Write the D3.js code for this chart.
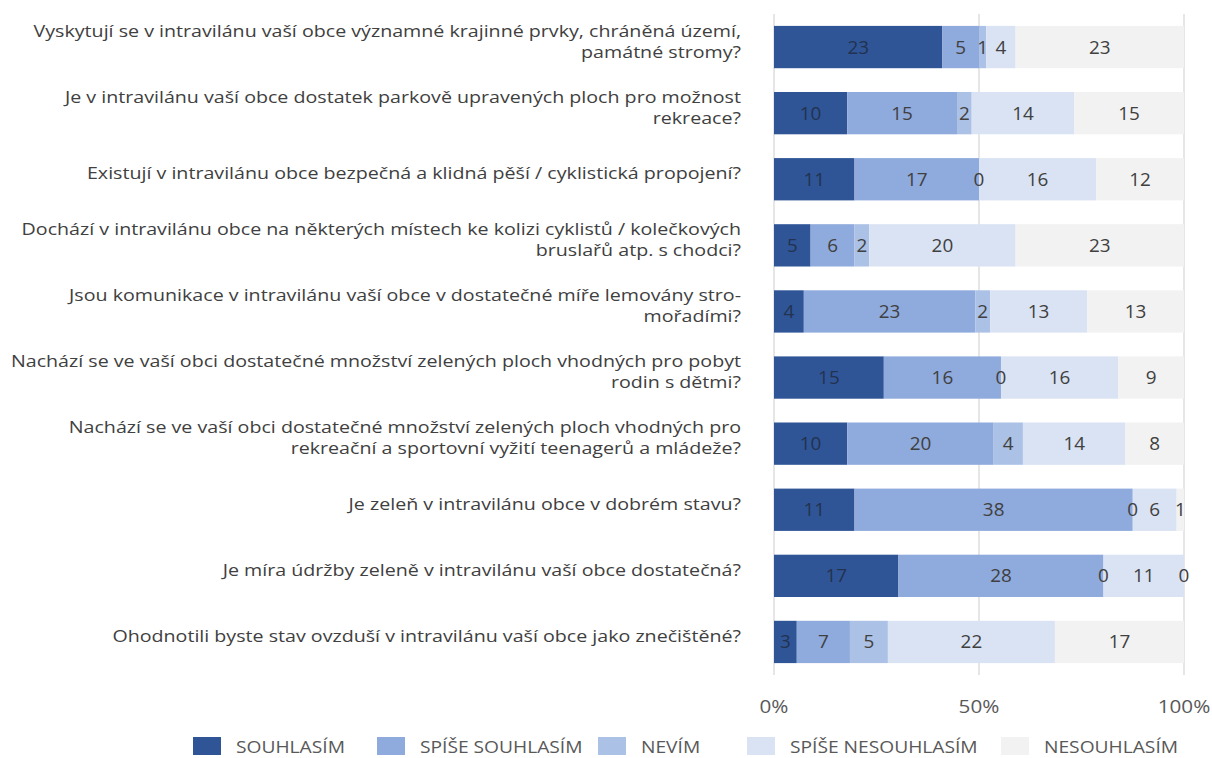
<!DOCTYPE html>
<html>
<head>
<meta charset="utf-8">
<script src="https://cdn.jsdelivr.net/npm/d3@7"></script>
<style>
  body { margin: 0; background: #fff; }
  svg { display: block; font-family: "Open Sans", sans-serif; }
</style>
</head>
<body>
<svg id="chart" width="1212" height="758"></svg>
<script>
// otazky (label lines)
const questions = [
  ["Vyskytují se v intravilánu vaší obce významné krajinné prvky, chráněná území,", "památné stromy?"],
  ["Je v intravilánu vaší obce dostatek parkově upravených ploch pro možnost", "rekreace?"],
  ["Existují v intravilánu obce bezpečná a klidná pěší / cyklistická propojení?"],
  ["Dochází v intravilánu obce na některých místech ke kolizi cyklistů / kolečkových", "bruslařů atp. s chodci?"],
  ["Jsou komunikace v intravilánu vaší obce v dostatečné míře lemovány stro-", "mořadími?"],
  ["Nachází se ve vaší obci dostatečné množství zelených ploch vhodných pro pobyt", "rodin s dětmi?"],
  ["Nachází se ve vaší obci dostatečné množství zelených ploch vhodných pro", "rekreační a sportovní vyžití teenagerů a mládeže?"],
  ["Je zeleň v intravilánu obce v dobrém stavu?"],
  ["Je míra údržby zeleně v intravilánu vaší obce dostatečná?"],
  ["Ohodnotili byste stav ovzduší v intravilánu vaší obce jako znečištěné?"]
];
const answers = ["SOUHLASÍM", "SPÍŠE SOUHLASÍM", "NEVÍM", "SPÍŠE NESOUHLASÍM", "NESOUHLASÍM"];
const souhlasim        = [23, 10, 11, 5, 4, 15, 10, 11, 17, 3];
const spiseSouhlasim   = [5, 15, 17, 6, 23, 16, 20, 38, 28, 7];
const nevim            = [1, 2, 0, 2, 2, 0, 4, 0, 0, 5];
const spiseNesouhlasim = [4, 14, 16, 20, 13, 16, 14, 6, 11, 22];
const nesouhlasim      = [23, 15, 12, 23, 13, 9, 8, 1, 0, 17];
const colors = ["#2F5597", "#8FAADC", "#ABC1E5", "#DAE3F3", "#F2F2F2"];
const ticks = [0, 0.5, 1];

const series = [souhlasim, spiseSouhlasim, nevim, spiseNesouhlasim, nesouhlasim];

const svg = d3.select("#chart");

const x = d3.scaleLinear().domain([0, 1]).range([774, 1184]);
const y = d3.scaleBand().domain(d3.range(questions.length)).range([14, 675]).paddingInner(0.36).paddingOuter(0.18);

// stretch text horizontally around anchor (font in picture is wider)
function stretch(sel, ax, sx) {
  sel.attr("transform", "translate(" + ax + ",0) scale(" + sx + ",1) translate(" + (-ax) + ",0)");
}

// gridlines
svg.append("g").selectAll("line")
  .data(ticks)
  .enter().append("line")
  .attr("x1", d => x(d)).attr("x2", d => x(d))
  .attr("y1", 14).attr("y2", 675)
  .attr("stroke", "#D9D9D9").attr("stroke-width", 1.3);

// build rows
let rows = questions.map((q, i) => {
  const vals = series.map(s => s[i]);
  const total = d3.sum(vals);
  let acc = 0;
  const segs = vals.map((v, k) => {
    const s = { row: i, k: k, v: v, x0: acc / total, x1: (acc + v) / total };
    acc += v;
    return s;
  });
  return segs;
});
const segs = rows.flat();

svg.append("g").selectAll("rect")
  .data(segs)
  .enter().append("rect")
  .attr("x", d => x(d.x0))
  .attr("width", d => x(d.x1) - x(d.x0))
  .attr("y", d => y(d.row))
  .attr("height", y.bandwidth())
  .attr("fill", d => colors[d.k]);

svg.append("g").selectAll("text")
  .data(segs)
  .enter().append("text")
  .attr("x", d => (x(d.x0) + x(d.x1)) / 2)
  .attr("y", d => y(d.row) + y.bandwidth() / 2)
  .attr("dy", "0.36em")
  .attr("text-anchor", "middle")
  .attr("font-size", 18)
  .attr("fill", d => d.k == 0 ? "#22324f" : "#404040")
  .text(d => d.v)
  .each(function(d) { stretch(d3.select(this), (x(d.x0) + x(d.x1)) / 2, 1.05); });

// category labels
const lab = svg.append("g").selectAll("text")
  .data(questions)
  .enter().append("text")
  .attr("text-anchor", "end")
  .attr("font-size", 17)
  .attr("fill", "#404040")
  .attr("y", (d, i) => y(i) + y.bandwidth() / 2 - (d.length - 1) * 10.5)
  .attr("dy", "0.35em");
lab.selectAll("tspan")
  .data(d => d)
  .enter().append("tspan")
  .attr("x", 741)
  .attr("dy", (d, j) => j == 0 ? 0 : 21)
  .text(d => d);
const w0 = lab.select("tspan").node().getComputedTextLength();
stretch(lab, 741, 708 / w0);

// x axis labels
const axl = svg.append("g").selectAll("text")
  .data(ticks)
  .enter().append("text")
  .attr("x", d => x(d))
  .attr("y", 707)
  .attr("dy", "0.35em")
  .attr("text-anchor", "middle")
  .attr("font-size", 18.5)
  .attr("fill", "#595959")
  .text(d3.format(".0%"));
axl.each(function(d) { stretch(d3.select(this), x(d), 1.12); });

// legend
const legX = [193, 377, 598, 747, 1001];
const leg = svg.append("g").selectAll("g")
  .data(answers)
  .enter().append("g")
  .attr("transform", (d, i) => "translate(" + legX[i] + ",737)");
leg.append("rect").attr("width", 28).attr("height", 18).attr("fill", (d, i) => colors[i]);
const legT = leg.append("text")
  .attr("x", 43).attr("y", 10).attr("dy", "0.36em")
  .attr("font-size", 16.5)
  .attr("fill", "#595959")
  .text(d => d);
const lw = legT.node().getComputedTextLength();
stretch(legT, 43, 109 / lw);
</script>
</body>
</html>
